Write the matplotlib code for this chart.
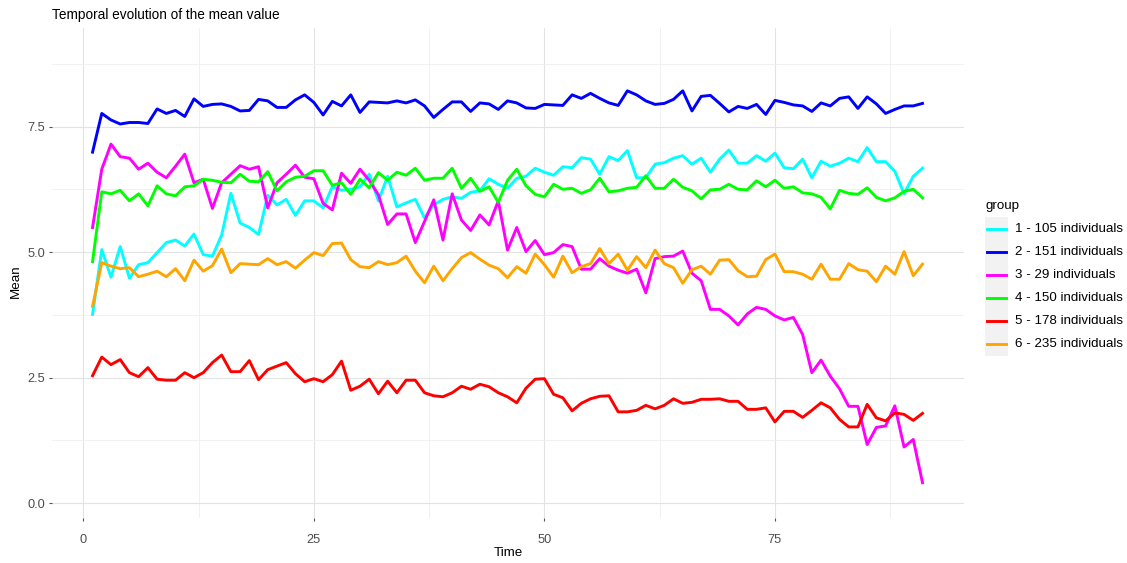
import matplotlib
matplotlib.use("Agg")
import matplotlib.pyplot as plt
import numpy as np
from matplotlib.lines import Line2D
from matplotlib.patches import Rectangle
from matplotlib.ticker import MultipleLocator

plt.rcParams['font.family'] = ['Liberation Sans', 'DejaVu Sans']

# time steps and group means
time = np.arange(1, 92)

g1 = [3.76, 5.05, 4.50, 5.11, 4.48, 4.75, 4.79, 4.99, 5.19, 5.24,
      5.12, 5.36, 4.95, 4.92, 5.34, 6.17, 5.58, 5.49, 5.35, 6.13,
      5.94, 6.05, 5.73, 6.02, 6.02, 5.88, 6.30, 6.23, 6.25, 6.30,
      6.55, 6.02, 6.51, 5.90, 5.98, 6.05, 5.68, 5.94, 6.05, 6.10,
      6.07, 6.19, 6.22, 6.46, 6.35, 6.27, 6.47, 6.51, 6.67, 6.59,
      6.53, 6.70, 6.68, 6.88, 6.85, 6.55, 6.90, 6.82, 7.02, 6.48,
      6.48, 6.75, 6.78, 6.87, 6.92, 6.75, 6.87, 6.59, 6.85, 7.03,
      6.77, 6.77, 6.92, 6.81, 6.97, 6.68, 6.66, 6.85, 6.48, 6.81,
      6.71, 6.77, 6.87, 6.80, 7.08, 6.80, 6.80, 6.61, 6.16, 6.51, 6.67]

g2 = [6.99, 7.76, 7.63, 7.55, 7.58, 7.58, 7.56, 7.85, 7.76, 7.82,
      7.70, 8.05, 7.90, 7.94, 7.95, 7.90, 7.81, 7.82, 8.04, 8.01,
      7.88, 7.88, 8.03, 8.13, 7.98, 7.73, 8.00, 7.91, 8.13, 7.78,
      7.99, 7.98, 7.97, 8.01, 7.97, 8.03, 7.91, 7.68, 7.84, 7.99,
      7.99, 7.80, 7.97, 7.95, 7.84, 8.01, 7.97, 7.87, 7.86, 7.94,
      7.93, 7.92, 8.13, 8.06, 8.16, 8.06, 7.97, 7.92, 8.21, 8.13,
      8.01, 7.94, 7.96, 8.04, 8.21, 7.81, 8.10, 8.12, 7.96, 7.79,
      7.90, 7.86, 7.94, 7.74, 8.02, 7.98, 7.93, 7.91, 7.80, 7.97,
      7.91, 8.06, 8.09, 7.86, 8.09, 7.95, 7.76, 7.84, 7.91, 7.91, 7.96]

g3 = [5.49, 6.65, 7.15, 6.90, 6.87, 6.65, 6.77, 6.59, 6.48, 6.71,
      6.95, 6.38, 6.45, 5.87, 6.38, 6.55, 6.72, 6.65, 6.70, 5.88,
      6.38, 6.55, 6.73, 6.49, 6.46, 5.97, 5.84, 6.57, 6.37, 6.65,
      6.43, 6.14, 5.55, 5.76, 5.76, 5.19, 5.61, 6.04, 5.24, 6.16,
      5.64, 5.43, 5.74, 5.54, 6.02, 5.04, 5.49, 5.01, 5.23, 4.95,
      4.99, 5.15, 5.11, 4.66, 4.66, 4.87, 4.72, 4.64, 4.58, 4.66,
      4.19, 4.87, 4.91, 4.92, 5.02, 4.58, 4.43, 3.86, 3.86, 3.73,
      3.55, 3.77, 3.90, 3.86, 3.73, 3.65, 3.70, 3.36, 2.60, 2.85,
      2.53, 2.28, 1.93, 1.93, 1.17, 1.51, 1.54, 1.94, 1.12, 1.27, 0.41]

g4 = [4.81, 6.20, 6.16, 6.23, 6.02, 6.16, 5.92, 6.32, 6.16, 6.12,
      6.30, 6.32, 6.45, 6.43, 6.39, 6.38, 6.55, 6.41, 6.40, 6.60,
      6.22, 6.40, 6.49, 6.51, 6.62, 6.62, 6.33, 6.38, 6.15, 6.45,
      6.28, 6.58, 6.43, 6.59, 6.53, 6.67, 6.43, 6.47, 6.47, 6.67,
      6.27, 6.47, 6.21, 6.30, 5.99, 6.43, 6.65, 6.32, 6.15, 6.10,
      6.35, 6.25, 6.27, 6.17, 6.24, 6.47, 6.20, 6.22, 6.27, 6.29,
      6.52, 6.27, 6.27, 6.45, 6.29, 6.22, 6.06, 6.24, 6.25, 6.35,
      6.25, 6.24, 6.42, 6.30, 6.43, 6.27, 6.30, 6.18, 6.16, 6.09,
      5.86, 6.23, 6.17, 6.15, 6.28, 6.09, 6.02, 6.08, 6.21, 6.25, 6.08]

g5 = [2.54, 2.91, 2.76, 2.86, 2.60, 2.52, 2.70, 2.47, 2.45, 2.45,
      2.60, 2.50, 2.60, 2.80, 2.95, 2.62, 2.62, 2.84, 2.46, 2.66,
      2.73, 2.80, 2.58, 2.42, 2.48, 2.42, 2.56, 2.83, 2.25, 2.33,
      2.47, 2.18, 2.43, 2.20, 2.45, 2.45, 2.20, 2.14, 2.12, 2.20,
      2.33, 2.27, 2.37, 2.32, 2.20, 2.12, 2.00, 2.29, 2.47, 2.48,
      2.17, 2.10, 1.84, 1.99, 2.08, 2.13, 2.14, 1.82, 1.82, 1.85,
      1.95, 1.88, 1.95, 2.08, 1.99, 2.01, 2.07, 2.07, 2.08, 2.03,
      2.03, 1.87, 1.87, 1.90, 1.62, 1.83, 1.83, 1.71, 1.85, 2.00,
      1.90, 1.67, 1.52, 1.52, 1.97, 1.70, 1.64, 1.80, 1.77, 1.65, 1.79]

g6 = [3.92, 4.79, 4.72, 4.67, 4.69, 4.51, 4.56, 4.62, 4.51, 4.67,
      4.43, 4.84, 4.62, 4.73, 5.06, 4.59, 4.77, 4.76, 4.75, 4.87,
      4.75, 4.81, 4.68, 4.84, 4.99, 4.93, 5.17, 5.18, 4.85, 4.71,
      4.69, 4.81, 4.75, 4.79, 4.92, 4.62, 4.39, 4.72, 4.43, 4.67,
      4.89, 4.99, 4.86, 4.74, 4.67, 4.49, 4.71, 4.58, 4.96, 4.75,
      4.50, 4.92, 4.59, 4.71, 4.77, 5.07, 4.77, 4.96, 4.64, 4.91,
      4.69, 5.04, 4.77, 4.69, 4.38, 4.65, 4.72, 4.56, 4.84, 4.85,
      4.63, 4.51, 4.52, 4.85, 4.96, 4.61, 4.61, 4.56, 4.46, 4.76,
      4.46, 4.46, 4.77, 4.65, 4.62, 4.41, 4.72, 4.56, 5.01, 4.53, 4.76]

groups = ['1 - 105 individuals', '2 - 151 individuals', '3 - 29 individuals',
          '4 - 150 individuals', '5 - 178 individuals', '6 - 235 individuals']
colors = ['#00FFFF', '#0000FF', '#FF00FF', '#00FF00', '#FF0000', '#FFA500']
series = [g1, g2, g3, g4, g5, g6]

W, H = 1127, 563
fig = plt.figure(figsize=(W / 100, H / 100), dpi=100)

def fx(x):
    return x / W

def fy(y):
    return 1 - y / H

left, right, top, bottom = 51.7, 964, 27.7, 518
ax = fig.add_axes([fx(left), fy(bottom), (right - left) / W, (bottom - top) / H])

for vals, col in zip(series, colors):
    ax.plot(time, vals, color=col, lw=2.1, solid_joinstyle='round', zorder=3)

ax.set_xlim(-3.43, 95.5)
ax.set_ylim(-0.293, 9.467)
ax.xaxis.set_major_locator(MultipleLocator(25))
ax.xaxis.set_minor_locator(MultipleLocator(12.5))
ax.yaxis.set_major_locator(MultipleLocator(2.5))
ax.yaxis.set_minor_locator(MultipleLocator(1.25))
ax.set_yticks([0, 2.5, 5, 7.5])
ax.set_yticklabels(['0.0', '2.5', '5.0', '7.5'])
ax.set_xticks([0, 25, 50, 75])

ax.grid(which='major', color='#E3E3E3', lw=0.8)
ax.grid(which='minor', color='#EFEFEF', lw=0.6)
ax.set_axisbelow(True)
for s in ax.spines.values():
    s.set_visible(False)
ax.tick_params(which='minor', length=0)
ax.tick_params(axis='y', which='major', length=2.2, width=0.8, color='#555555',
               pad=2.5, labelsize=9.2, labelcolor='#4D4D4D')
ax.tick_params(axis='x', which='major', length=2.2, width=0.8, color='#555555',
               pad=9, labelsize=9.2, labelcolor='#4D4D4D')

fig.text(fx(52), fy(14.5), 'Temporal evolution of the mean value', fontsize=9.8,
         ha='left', va='center')
fig.text(fx(507.9), fy(553), 'Time', fontsize=9.6, ha='center', va='center')
fig.text(fx(16), fy(281), 'Mean', fontsize=9.6, ha='center', va='center',
         rotation=90)

# legend drawn by hand in pixel units
fig.text(fx(985), fy(205.5), 'group', fontsize=9.6, ha='left', va='center')
fig.patches.append(Rectangle((fx(985), fy(356)), 23 / W, 139 / H,
                             transform=fig.transFigure, facecolor='#F2F2F2',
                             edgecolor='none'))
for i, (lab, col) in enumerate(zip(groups, colors)):
    yk = 229.3 + i * 22.95
    fig.add_artist(Line2D([fx(987), fx(1006.5)], [fy(yk), fy(yk)],
                          transform=fig.transFigure, color=col, lw=2.1))
    fig.text(fx(1015), fy(yk), lab, fontsize=9.6, ha='left', va='center')

fig.savefig('out.png', dpi=100)
